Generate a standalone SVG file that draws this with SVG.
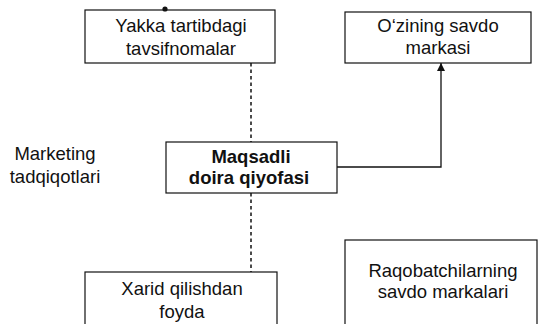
<svg xmlns="http://www.w3.org/2000/svg" width="540" height="324" viewBox="0 0 540 324">
<defs>
<style>
.box{fill:#fff;stroke:#111;stroke-width:1.2}
.t{font-family:"Liberation Sans",Arial,sans-serif;font-size:18.5px;fill:#111;text-anchor:middle}
.b{font-weight:bold}
.dash{stroke:#111;stroke-width:1.5;stroke-dasharray:3.5 3;fill:none}
.solid{stroke:#111;stroke-width:1.3;fill:none}
</style>
<marker id="ah" viewBox="0 0 10 10" refX="10" refY="5" markerWidth="8" markerHeight="10" markerUnits="userSpaceOnUse" orient="auto">
<path d="M0,0 L10,5 L0,10 Z" fill="#111"/>
</marker>
</defs>
<rect width="540" height="324" fill="#fff"/>
<g id="connectors">
<line class="dash" x1="251" y1="63" x2="251" y2="142"/>
<line class="dash" x1="251" y1="193" x2="251" y2="272"/>
<polyline class="solid" points="337,167 441,167 441,63" marker-end="url(#ah)"/>
</g>
<g id="node-yakka">
<rect class="box" x="85" y="10" width="190" height="53"/>
<circle cx="165" cy="9" r="2.6" fill="#111"/>
<text class="t" x="181" y="32">Yakka tartibdagi</text>
<text class="t" x="181" y="55">tavsifnomalar</text>
</g>
<g id="node-ozining">
<rect class="box" x="345" y="12" width="186" height="51"/>
<text class="t" x="438" y="32">O‘zining savdo</text>
<text class="t" x="438" y="54">markasi</text>
</g>
<g id="node-marketing">
<text class="t" x="55" y="160">Marketing</text>
<text class="t" x="55" y="183">tadqiqotlari</text>
</g>
<g id="node-maqsadli">
<rect class="box" x="166" y="142" width="171" height="51"/>
<text class="t b" x="251" y="163">Maqsadli</text>
<text class="t b" x="249" y="184">doira qiyofasi</text>
</g>
<g id="node-xarid">
<rect class="box" x="85" y="272" width="192" height="60"/>
<text class="t" x="182" y="295">Xarid qilishdan</text>
<text class="t" x="182" y="318">foyda</text>
</g>
<g id="node-raqobat">
<rect class="box" x="345" y="240" width="192" height="92"/>
<text class="t" x="443" y="277">Raqobatchilarning</text>
<text class="t" x="443" y="298">savdo markalari</text>
</g>
</svg>
